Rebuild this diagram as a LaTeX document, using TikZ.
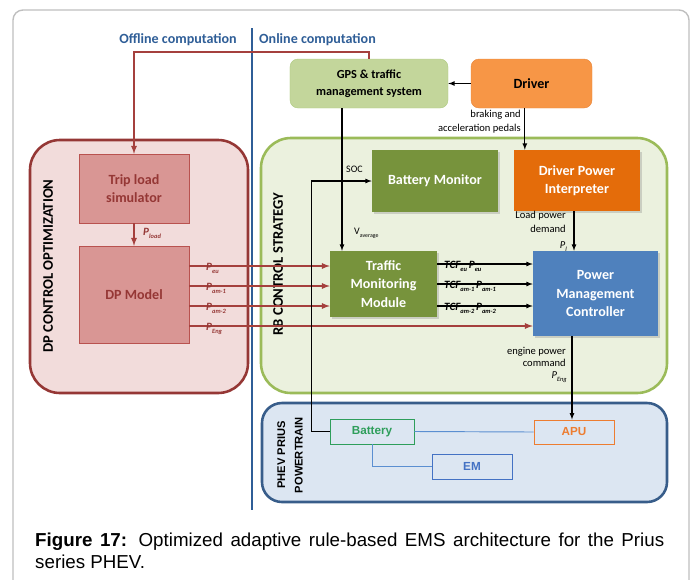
\documentclass[tikz,border=0pt]{standalone}
\usepackage{fontspec}
\setmainfont{Carlito}
\newfontfamily\arialfont{Liberation Sans}
\usepackage{tikz}
\usetikzlibrary{shadows, calc}

\definecolor{dpred}{HTML}{953735}
\definecolor{dpfill}{HTML}{F2DCDB}
\definecolor{tripfill}{HTML}{D99694}
\definecolor{tripdraw}{HTML}{B9524F}
\definecolor{linered}{HTML}{A5403D}
\definecolor{rbgreen}{HTML}{9BBB59}
\definecolor{rbfill}{HTML}{EBF1DE}
\definecolor{mgreen}{HTML}{77933C}
\definecolor{gpsfill}{HTML}{C3D69B}
\definecolor{gpsdraw}{HTML}{AFCB82}
\definecolor{drvfill}{HTML}{F79646}
\definecolor{drvdraw}{HTML}{E8873C}
\definecolor{dpiorange}{HTML}{E46C0A}
\definecolor{pmcblue}{HTML}{4F81BD}
\definecolor{ptfill}{HTML}{DCE6F2}
\definecolor{ptdraw}{HTML}{385D8A}
\definecolor{batgreen}{HTML}{2E9E5B}
\definecolor{apuorange}{HTML}{ED7D31}
\definecolor{emblue}{HTML}{4472C4}
\definecolor{linkblue}{HTML}{5B8FD1}
\definecolor{headblue}{HTML}{2F5E97}
\definecolor{framegray}{HTML}{BFBFBF}

\newcommand{\sublab}[2]{#1\raisebox{-0.7ex}{\fontsize{5.5}{6}\selectfont #2}}

\tikzset{
	region/.style={draw, line width=2.2pt, rounded corners=0.9cm},
	solidbox/.style={rectangle, text=white, align=center,
		font=\fontsize{12}{15.5}\selectfont\bfseries,
		drop shadow={shadow xshift=1.5pt, shadow yshift=-1.5pt, opacity=0.3}},
	dpbox/.style={draw=tripdraw, fill=tripfill, rectangle, text=dpred, align=center,
		font=\fontsize{12}{15.5}\selectfont\bfseries, minimum width=3.3cm},
	ptpart/.style={draw, rectangle, line width=0.8pt, minimum height=0.75cm,
		font=\arialfont\fontsize{10}{12}\selectfont\bfseries},
	conn/.style={->, >=latex, line width=0.9pt},
	offline/.style={->, >=latex, line width=1.3pt, linered},
	note/.style={font=\fontsize{9}{12}\selectfont, align=right, inner sep=0pt},
	sig/.style={font=\fontsize{9.5}{10}\selectfont\bfseries\itshape, inner sep=0pt},
	rotlabel/.style={rotate=90, font=\fontsize{12.5}{14}\selectfont\bfseries}
}

\begin{document}
\begin{tikzpicture}[x=0.03cm, y=-0.03cm]
	\useasboundingbox (0,0) rectangle (697,579);
	
	% frame and headings
	\draw[framegray, line width=1.2pt, rounded corners=0.3cm] (13,590) |- (689,10) -- (689,590);
	\node[font=\fontsize{12}{14}\selectfont\bfseries, text=headblue, anchor=east, inner sep=0pt] 
		(offhead) at (237,40) {Offline computation};
	\node[font=\fontsize{12}{14}\selectfont\bfseries, text=headblue, anchor=west, inner sep=0pt] 
		(onhead) at (259,40) {Online computation};
	\coordinate (divtop) at (252,28);
	\coordinate (divbot) at (252,510);
	\draw[headblue, line width=1.3pt] (divtop) -- (divbot);
	
	% regions
	\node[region, draw=dpred, fill=dpfill, minimum width=6.54cm, minimum height=7.59cm] 
		(dpreg) at (139,266.5) {};
	\node[region, draw=rbgreen, fill=rbfill, minimum width=12.18cm, minimum height=7.65cm] 
		(rbreg) at (464,265.5) {};
	\node[region, draw=ptdraw, fill=ptfill, rounded corners=0.6cm, minimum width=12.15cm, minimum height=2.97cm] 
		(ptreg) at (464.5,452.5) {};
	
	\node[rotlabel] (dplabel) at (48,266) {DP CONTROL OPTIMIZATION};
	\node[rotlabel] (rblabel) at (278,264) {RB CONTROL STRATEGY};
	\node[rotate=90, font=\arialfont\fontsize{9.5}{15}\selectfont\bfseries, align=center] 
		(ptlabel) at (290,455) {PHEV PRIUS\\POWERTRAIN};
	
	% top boxes
	\node[draw=gpsdraw, fill=gpsfill, rounded corners=0.24cm, minimum width=4.74cm, minimum height=1.47cm,
		font=\fontsize{10.5}{14.5}\selectfont\bfseries, align=center] 
		(gps) at (369,83.5) {GPS \& traffic\\management system};
	\node[draw=drvdraw, fill=drvfill, rounded corners=0.24cm, minimum width=3.63cm, minimum height=1.47cm,
		font=\fontsize{12}{14}\selectfont\bfseries] 
		(driver) at (531.5,83.5) {Driver};
	
	% DP side
	\node[dpbox, minimum height=2.07cm] (trip) at (134,188.5) {Trip load\\simulator};
	\node[dpbox, minimum height=2.91cm] (dpmodel) at (134,294.5) {DP Model};
	
	% RB side
	\node[solidbox, fill=mgreen, minimum width=3.78cm, minimum height=1.86cm] 
		(batmon) at (435,181) {Battery Monitor};
	\node[solidbox, fill=dpiorange, minimum width=3.78cm, minimum height=1.83cm] 
		(dpi) at (577,180.5) {Driver Power\\Interpreter};
	\node[solidbox, fill=mgreen, minimum width=3.21cm, minimum height=1.98cm] 
		(tmm) at (383.5,284) {Traffic\\Monitoring\\Module};
	\node[solidbox, fill=pmcblue, minimum width=3.75cm, minimum height=2.55cm] 
		(pmc) at (595.5,293.5) {Power\\Management\\Controller};
	
	% powertrain
	\node[ptpart, draw=batgreen, text=batgreen, minimum width=2.52cm] (battery) at (372,431.5) {Battery};
	\node[ptpart, draw=apuorange, text=apuorange, minimum width=2.4cm, minimum height=0.72cm] (apu) at (574,432) {APU};
	\node[ptpart, draw=emblue, text=emblue, minimum width=2.4cm] (em) at (472,466.5) {EM};
	\draw[linkblue, line width=0.8pt] (battery.east) -- (apu.west);
	\draw[linkblue, line width=0.8pt] (battery.south) |- (em.west);
	
	% offline links
	\draw[offline] (gps.north) -- ++(0,-7) -| (trip.north);
	\draw[offline] (trip.south) -- (dpmodel.north);
	\node[sig, text=dpred, anchor=base west] (pload) at (143,235) {\sublab{P}{load}};
	\foreach \yy/\lbl in {266/eu, 286/am-1, 306/am-2}{
		\draw[offline] (dpmodel.east |- 0,\yy) -- (tmm.west |- 0,\yy);
		\node[sig, text=dpred, anchor=base west] (p-\yy) at (206,\yy+4) {\sublab{P}{\lbl}};
	}
	\draw[offline] (dpmodel.east |- 0,326) -- (pmc.west |- 0,326);
	\node[sig, text=dpred, anchor=base west] (p-326) at (206,330) {\sublab{P}{Eng}};
	
	% online links
	\draw[conn] (driver.west) -- (gps.east);
	\draw[conn] ([xshift=-0.2cm]driver.south) -- ([xshift=-0.2cm]driver.south |- dpi.north);
	\node[note, anchor=north east] (pedals) at (521,110) {braking and\\acceleration pedals};
	
	\coordinate (vavg) at (342,0);
	\draw[conn] (gps.south -| vavg) -- (tmm.north -| vavg);
	\node[font=\fontsize{8.5}{10}\selectfont, anchor=west, inner sep=0pt] (soc) at (346,169) {SOC};
	\node[font=\fontsize{8.5}{10}\selectfont, anchor=west, inner sep=0pt] 
		(vav) at (354,233) {V\raisebox{-0.7ex}{\fontsize{5}{6}\selectfont average}};
	\draw[conn] (battery.west) -- ++(-18,0) |- (batmon.west);
	
	\foreach \yy/\lbl in {264/eu, 284/am-1, 306/am-2}{
		\draw[conn] (tmm.east |- 0,\yy) -- (pmc.west |- 0,\yy);
		\node[sig, anchor=base west] (tcf-\yy) at (444,\yy+4) {\sublab{TCF}{\lbl}\,\sublab{P}{\lbl}};
	}
	
	\coordinate (plx) at (574,0);
	\draw[conn] (dpi.south -| plx) -- (pmc.north -| plx);
	\node[note, anchor=north east] (loaddem) at (566,211) {Load power\\demand};
	\node[font=\fontsize{9}{10}\selectfont\itshape, inner sep=0pt, anchor=base east] (pl) at (567,248) {\sublab{P}{l}};
	
	\coordinate (pex) at (572,0);
	\draw[conn] (pmc.south -| pex) -- (apu.north -| pex);
	\node[note, font=\fontsize{9}{10.5}\selectfont, anchor=north east] (engcmd) at (566,347) {engine power\\command};
	\node[font=\fontsize{9}{10}\selectfont\itshape, inner sep=0pt, anchor=base east] (peng) at (567,378) {\sublab{P}{Eng}};
	
	% caption
	\node[font=\arialfont\fontsize{16}{19}\selectfont, anchor=base west, inner sep=0pt] (cap1) at (35,546) 
		{\makebox[18.87cm][s]{\textbf{Figure 17:} Optimized adaptive rule-based EMS architecture for the Prius}};
	\node[font=\arialfont\fontsize{16}{19}\selectfont, anchor=base west, inner sep=0pt] (cap2) at (35,568) 
		{series PHEV.};
\end{tikzpicture}
\end{document}
